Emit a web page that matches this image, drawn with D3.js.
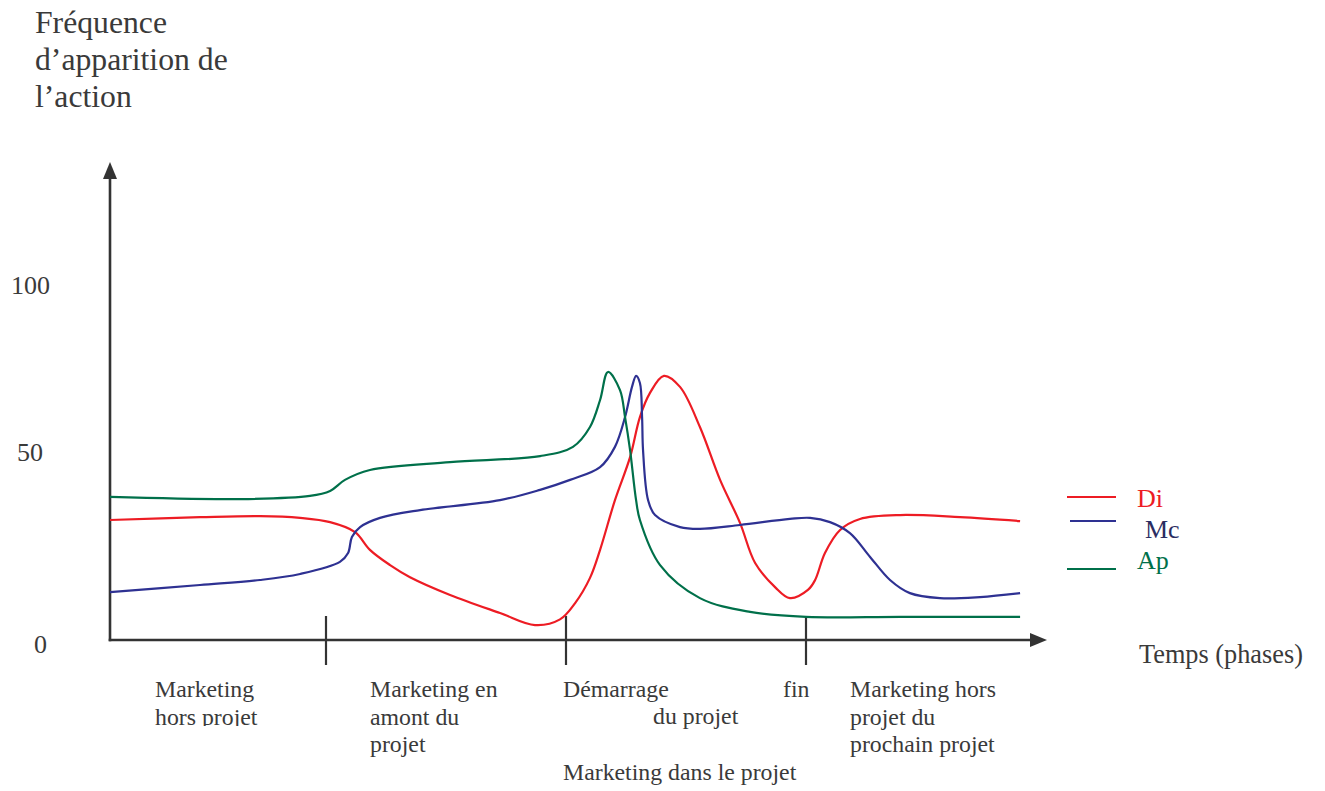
<!DOCTYPE html>
<html>
<head>
<meta charset="utf-8">
<title>Fréquence d'apparition de l'action</title>
<script src="https://d3js.org/d3.v7.min.js"></script>
<style>
    body { margin: 0; background: #fff; }
    text { font-family: "Liberation Serif", "Times New Roman", serif; fill: #3a3a3a; }
</style>
</head>
<body>
<div id="chart"></div>
<script>
    // ---- data (t = time units along the axis, v = frequency 0-100) ----
    var yTicks = [0, 50, 100];
    var phaseTicks = [9, 19, 29];

    var di = [[0,33.8],[3.75,34.6],[6.25,34.9],[7.92,34.4],[9.17,33.2],[10.21,30.4],[10.83,25.4],
        [11.67,21.1],[12.5,17.7],[14.17,12.7],[16.25,7.6],[17.71,4.2],[18.75,5.8],[19.38,10.4],
        [20.0,17.5],[20.42,25.4],[21.04,39.4],[21.67,51.5],[22.08,62.8],[22.5,69.6],[23.08,74.4],
        [23.75,71.3],[24.58,60.0],[25.42,45.1],[26.25,33.0],[26.88,21.7],[27.71,14.9],[28.33,11.8],
        [29.08,14.1],[29.38,16.9],[29.79,24.5],[30.42,31.0],[31.25,34.1],[32.92,35.2],[35.42,34.6],[37.92,33.5]];

    var mc = [[0,13.5],[3.75,15.5],[6.25,16.9],[7.92,18.6],[9.58,22.0],[9.92,24.5],[10.08,29.0],
        [10.42,31.8],[11.25,34.4],[12.92,36.6],[16.25,39.4],[17.92,42.3],[19.17,45.1],[20.42,48.7],
        [21.04,54.4],[21.46,62.8],[21.75,71.3],[21.92,74.4],[22.08,72.4],[22.17,62.8],[22.21,53.5],
        [22.42,39.4],[22.71,35.2],[23.75,31.8],[24.58,31.3],[26.25,32.4],[28.33,34.1],[29.17,34.4],
        [30.0,33.2],[30.83,30.1],[31.67,23.4],[32.5,16.9],[33.33,13.2],[34.58,11.8],[36.25,12.1],[37.92,13.2]];

    var ap = [[0,40.3],[5.42,39.7],[8.33,40.6],[9.17,42.0],[9.79,45.1],[10.83,47.9],[14.17,50.1],
        [17.92,51.8],[19.29,54.4],[20.0,60.0],[20.42,67.6],[20.75,75.5],[21.25,70.4],[21.46,62.8],
        [21.67,53.5],[21.92,39.4],[22.08,33.8],[22.92,21.1],[24.58,11.8],[26.67,7.9],[29.0,6.5],
        [32.92,6.5],[37.92,6.5]];

    var seriesNames = ['Di', 'Mc', 'Ap'];
    var seriesColors = ['#ed1c24', '#2e3192', '#00704a'];
    var labelColors = ['#ed1c24', '#2b2d62', '#00704a'];

    var titleLines = ['Fréquence', 'd\u2019apparition de', 'l\u2019action'];
    var phaseLabels = [
        ['Marketing', 'hors projet'],
        ['Marketing en', 'amont du', 'projet'],
        ['Démarrage'],
        ['du projet'],
        ['fin'],
        ['Marketing hors', 'projet du', 'prochain projet'],
        ['Marketing dans le projet']
    ];

    // ---- layout ----
    var W = 1325, H = 791;
    var x = d3.scaleLinear().domain([0, 39]).range([110, 1046]);
    var y = d3.scaleLinear().domain([0, 100]).range([640, 285]);
    var axisColor = '#333';

    var svg = d3.select('#chart').append('svg')
        .attr('width', W).attr('height', H);

    // title
    svg.append('text')
        .attr('font-size', 31.7)
        .selectAll('tspan')
        .data(titleLines)
        .enter().append('tspan')
        .attr('x', 35)
        .attr('y', function (d, i) { return 33 + i * 37; })
        .text(function (d) { return d; });

    // y axis with arrow
    svg.append('line')
        .attr('x1', x(0)).attr('x2', x(0))
        .attr('y1', y(0) + 1.3).attr('y2', 176)
        .attr('stroke', axisColor).attr('stroke-width', 2.6);
    svg.append('path')
        .attr('d', 'M' + x(0) + ',162 L' + (x(0) - 7) + ',179 L' + (x(0) + 7) + ',179 Z')
        .attr('fill', axisColor);

    // x axis with arrow
    svg.append('line')
        .attr('x1', x(0) - 1.3).attr('x2', 1032)
        .attr('y1', y(0)).attr('y2', y(0))
        .attr('stroke', axisColor).attr('stroke-width', 2.6);
    svg.append('path')
        .attr('d', 'M1047,' + y(0) + ' L1030,' + (y(0) - 7) + ' L1030,' + (y(0) + 7) + ' Z')
        .attr('fill', axisColor);

    // phase ticks
    svg.selectAll('.phase')
        .data(phaseTicks)
        .enter().append('line')
        .attr('class', 'phase')
        .attr('x1', function (d) { return x(d); })
        .attr('x2', function (d) { return x(d); })
        .attr('y1', y(0) - 24).attr('y2', y(0) + 25)
        .attr('stroke', axisColor).attr('stroke-width', 2.2);

    // y tick labels
    svg.selectAll('.ylab')
        .data(yTicks)
        .enter().append('text')
        .attr('class', 'ylab')
        .attr('font-size', 26)
        .attr('text-anchor', 'end')
        .attr('x', function (d) { return d === 100 ? 50 : (d === 50 ? 43 : 47); })
        .attr('y', function (d) { return y(d); })
        .attr('dy', function (d) { return d === 50 ? '-0.05em' : (d === 0 ? '0.5em' : '0.33em'); })
        .text(function (d) { return d; });

    // curves
    var line = d3.line()
        .x(function (d) { return x(d[0]); })
        .y(function (d) { return y(d[1]); })
        .curve(d3.curveCatmullRom.alpha(0.5));

    [di, mc, ap].forEach(function (s, i) {
        svg.append('path')
            .datum(s)
            .attr('fill', 'none')
            .attr('stroke', seriesColors[i])
            .attr('stroke-width', 2.2)
            .attr('d', line);
    });

    // legend
    var legendY = [497, 521, 569];
    var legendTextX = [1137, 1145, 1137];
    var legendTextY = [507, 538, 569];
    seriesNames.forEach(function (name, i) {
        svg.append('line')
            .attr('x1', i === 1 ? 1070 : 1067).attr('x2', 1116)
            .attr('y1', legendY[i]).attr('y2', legendY[i])
            .attr('stroke', seriesColors[i]).attr('stroke-width', 2);
        svg.append('text')
            .attr('x', legendTextX[i]).attr('y', legendTextY[i])
            .attr('font-size', 26)
            .style('fill', labelColors[i])
            .text(name);
    });

    svg.append('text')
        .attr('x', 1139).attr('y', 663)
        .attr('font-size', 26.3)
        .text('Temps (phases)');

    // phase labels
    var labelPos = [[155, 697], [370, 697], [563, 697], [653, 724], [783, 697], [850, 697], [563, 780]];

    svg.append('clipPath').attr('id', 'cut')
        .append('rect').attr('x', 100).attr('y', 660).attr('width', 200).attr('height', 66);

    phaseLabels.forEach(function (lines, i) {
        var t = svg.append('text')
            .attr('font-size', 23.8);
        if (i === 0) t.attr('clip-path', 'url(#cut)');
        t.selectAll('tspan')
            .data(lines)
            .enter().append('tspan')
            .attr('x', labelPos[i][0])
            .attr('y', function (d, j) { return labelPos[i][1] + j * 27.5; })
            .text(function (d) { return d; });
    });
</script>
</body>
</html>
